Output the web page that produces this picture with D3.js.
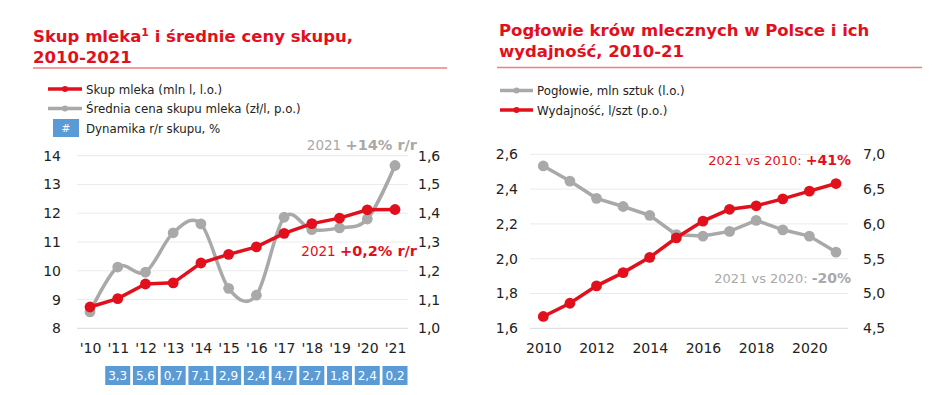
<!DOCTYPE html>
<html><head><meta charset="utf-8">
<script src="https://cdn.jsdelivr.net/npm/d3@7"></script>
<style>
html,body{margin:0;padding:0;background:#fff;}
svg{display:block;font-family:"DejaVu Sans",Verdana,sans-serif;}
</style></head>
<body><svg id="c" width="940" height="395"></svg>
<script>
// ---- DATA ----
const yearsL = ["'10","'11","'12","'13","'14","'15","'16","'17","'18","'19","'20","'21"];
const skupMleka = [8.74, 9.03, 9.54, 9.58, 10.27, 10.57, 10.83, 11.30, 11.64, 11.83, 12.12, 12.13];
const cenaSkupu = [1.057, 1.213, 1.195, 1.332, 1.363, 1.139, 1.115, 1.386, 1.343, 1.349, 1.380, 1.566];
const dynamikaYears = ["'11","'12","'13","'14","'15","'16","'17","'18","'19","'20","'21"];
const dynamika = ["3,3","5,6","0,7","7,1","2,9","2,4","4,7","2,7","1,8","2,4","0,2"];
const leftTicksL = [8, 9, 10, 11, 12, 13, 14];
const rightTicksL = [1.0, 1.1, 1.2, 1.3, 1.4, 1.5, 1.6];

const yearsR = [2010,2011,2012,2013,2014,2015,2016,2017,2018,2019,2020,2021];
const poglowie = [2.533, 2.446, 2.347, 2.300, 2.249, 2.138, 2.130, 2.157, 2.220, 2.166, 2.130, 2.038];
const wydajnosc = [4.67, 4.86, 5.11, 5.30, 5.52, 5.80, 6.04, 6.21, 6.26, 6.36, 6.47, 6.58];
const xTicksR = [2010, 2012, 2014, 2016, 2018, 2020];
const leftTicksR = [1.6, 1.8, 2.0, 2.2, 2.4, 2.6];
const rightTicksR = [4.5, 5.0, 5.5, 6.0, 6.5, 7.0];

const RED = "#e2101c", GRAY = "#a9a9a9", BLUE = "#5b9bd5", TITLE = "#e2101c";
const fmt1 = d3.format(".1f");
const pl = v => fmt1(v).replace(".", ",");

const svg = d3.select("#c");

function title(x, y1, lines){
  lines.forEach((t,i)=>{
    const tx = svg.append("text").attr("x",x).attr("y",y1+i*21).attr("fill",TITLE)
      .attr("font-weight","bold").attr("font-size",16.5);
    if (Array.isArray(t)) t.forEach(p=>{
      const ts = tx.append("tspan").text(p.t);
      if (p.sup) ts.attr("font-size",11).attr("dy",-6);
      if (p.after) ts.attr("dy",6);
    }); else tx.text(t);
  });
}
function legendLine(x1,x2,y,color,label,tx){
  svg.append("line").attr("x1",x1).attr("x2",x2).attr("y1",y).attr("y2",y)
    .attr("stroke",color).attr("stroke-width",3.5);
  svg.append("circle").attr("cx",(x1+x2)/2).attr("cy",y).attr("r",3).attr("fill",color);
  svg.append("text").attr("x",tx).attr("y",y+4.5).attr("font-size",11.8).attr("fill","#222").text(label);
}

// ---------------- LEFT CHART ----------------
title(33, 42, [[{t:"Skup mleka"},{t:"1",sup:true},{t:" i średnie ceny skupu,",after:true}], "2010-2021"]);
svg.append("line").attr("x1",33).attr("x2",447).attr("y1",68).attr("y2",68).attr("stroke","#ef7d83").attr("stroke-width",1.5);
legendLine(48,82,89,RED,"Skup mleka (mln l, l.o.)",86);
legendLine(48,82,108.5,GRAY,"Średnia cena skupu mleka (zł/l, p.o.)",86);
svg.append("rect").attr("x",53).attr("y",119).attr("width",26).attr("height",18).attr("fill",BLUE);
svg.append("text").attr("x",66).attr("y",132).attr("text-anchor","middle").attr("fill","#fff").attr("font-size",10.5).text("#");
svg.append("text").attr("x",86).attr("y",132.5).attr("font-size",11.8).attr("fill","#222").text("Dynamika r/r skupu, %");

const xL = d3.scalePoint().domain(yearsL).range([90, 395]);
const yL = d3.scaleLinear().domain([8,14]).range([328.3,155.7]);
const yL2 = d3.scaleLinear().domain([1.0,1.6]).range([328.3,155.7]);

const gL = svg.append("g");
gL.selectAll("line.grid").data(leftTicksL).join("line")
  .attr("x1",77).attr("x2",408).attr("y1",d=>yL(d)).attr("y2",d=>yL(d))
  .attr("stroke",(d,i)=>i===0?"#d9d9d9":"#ebebeb").attr("stroke-width",1);

const axL = svg.append("g").attr("transform","translate(61,0)")
  .call(d3.axisLeft(yL).tickValues(leftTicksL).tickSize(0).tickPadding(0).tickFormat(d3.format("d")));
const axL2 = svg.append("g").attr("transform","translate(418,0)")
  .call(d3.axisRight(yL2).tickValues(rightTicksL).tickSize(0).tickPadding(0).tickFormat(pl));
const axLx = svg.append("g").attr("transform","translate(0,340)")
  .call(d3.axisBottom(xL).tickSize(0).tickPadding(0));
[axL,axL2,axLx].forEach(a=>{a.select(".domain").remove();a.selectAll("text").attr("font-size",14).attr("fill","#222").attr("font-family","DejaVu Sans, sans-serif");});
axLx.selectAll("text").attr("dy","0.95em");

// gray smooth line
svg.append("path").datum(cenaSkupu).attr("fill","none").attr("stroke",GRAY).attr("stroke-width",3.5)
  .attr("d", d3.line().x((d,i)=>xL(yearsL[i])).y(d=>yL2(d)).curve(d3.curveCardinal.tension(0)));
svg.append("g").selectAll("circle").data(cenaSkupu).join("circle")
  .attr("cx",(d,i)=>xL(yearsL[i])).attr("cy",d=>yL2(d)).attr("r",5.4).attr("fill",GRAY);
// red line
svg.append("path").datum(skupMleka).attr("fill","none").attr("stroke",RED).attr("stroke-width",3.5)
  .attr("d", d3.line().x((d,i)=>xL(yearsL[i])).y(d=>yL(d)));
svg.append("g").selectAll("circle").data(skupMleka).join("circle")
  .attr("cx",(d,i)=>xL(yearsL[i])).attr("cy",d=>yL(d)).attr("r",5.4).attr("fill",RED);

// boxes
const bx = svg.append("g");
bx.selectAll("rect").data(dynamika).join("rect")
  .attr("x",(d,i)=>xL(dynamikaYears[i])-12.5).attr("y",366).attr("width",25).attr("height",19).attr("fill",BLUE);
bx.selectAll("text").data(dynamika).join("text")
  .attr("x",(d,i)=>xL(dynamikaYears[i])).attr("y",380).attr("text-anchor","middle")
  .attr("fill","#fff").attr("font-size",12).text(d=>d);

// annotations
function annot(x,y,color,norm,bold,fs){
  const t = svg.append("text").attr("x",x).attr("y",y).attr("text-anchor","end").attr("fill",color).attr("font-size",fs);
  t.append("tspan").text(norm);
  t.append("tspan").attr("font-weight","bold").attr("font-size",fs+1).text(bold);
}
annot(417,150,GRAY,"2021 ","+14% r/r",13.5);
annot(417,256,RED,"2021 ","+0,2% r/r",13.5);

// ---------------- RIGHT CHART ----------------
title(499, 36, ["Pogłowie krów mlecznych w Polsce i ich", "wydajność, 2010-21"]);
svg.append("line").attr("x1",497).attr("x2",922).attr("y1",67.5).attr("y2",67.5).attr("stroke","#ef7d83").attr("stroke-width",1.5);
legendLine(500,533,90.5,GRAY,"Pogłowie, mln sztuk (l.o.)",537);
legendLine(500,533,110,RED,"Wydajność, l/szt (p.o.)",537);

const xR = d3.scaleLinear().domain([2010,2021]).range([543.3,836]);
const yR = d3.scaleLinear().domain([1.6,2.6]).range([328.3,154.3]);
const yR2 = d3.scaleLinear().domain([4.5,7.0]).range([328.3,154.3]);

svg.append("g").selectAll("line").data(leftTicksR).join("line")
  .attr("x1",530).attr("x2",848).attr("y1",d=>yR(d)).attr("y2",d=>yR(d))
  .attr("stroke",(d,i)=>i===0?"#d9d9d9":"#ebebeb").attr("stroke-width",1);

const axR = svg.append("g").attr("transform","translate(518,0)")
  .call(d3.axisLeft(yR).tickValues(leftTicksR).tickSize(0).tickPadding(0).tickFormat(pl));
const axR2 = svg.append("g").attr("transform","translate(863,0)")
  .call(d3.axisRight(yR2).tickValues(rightTicksR).tickSize(0).tickPadding(0).tickFormat(pl));
const axRx = svg.append("g").attr("transform","translate(0,340)")
  .call(d3.axisBottom(xR).tickValues(xTicksR).tickSize(0).tickPadding(0).tickFormat(d3.format("d")));
[axR,axR2,axRx].forEach(a=>{a.select(".domain").remove();a.selectAll("text").attr("font-size",14).attr("fill","#222").attr("font-family","DejaVu Sans, sans-serif");});
axRx.selectAll("text").attr("dy","0.95em");

svg.append("path").datum(poglowie).attr("fill","none").attr("stroke",GRAY).attr("stroke-width",3.5)
  .attr("d", d3.line().x((d,i)=>xR(yearsR[i])).y(d=>yR(d)));
svg.append("g").selectAll("circle").data(poglowie).join("circle")
  .attr("cx",(d,i)=>xR(yearsR[i])).attr("cy",d=>yR(d)).attr("r",5.4).attr("fill",GRAY);
svg.append("path").datum(wydajnosc).attr("fill","none").attr("stroke",RED).attr("stroke-width",3.5)
  .attr("d", d3.line().x((d,i)=>xR(yearsR[i])).y(d=>yR2(d)));
svg.append("g").selectAll("circle").data(wydajnosc).join("circle")
  .attr("cx",(d,i)=>xR(yearsR[i])).attr("cy",d=>yR2(d)).attr("r",5.4).attr("fill",RED);

annot(851,165,RED,"2021 vs 2010: ","+41%",13);
annot(851,283,GRAY,"2021 vs 2020: ","-20%",13);
</script></body></html>
